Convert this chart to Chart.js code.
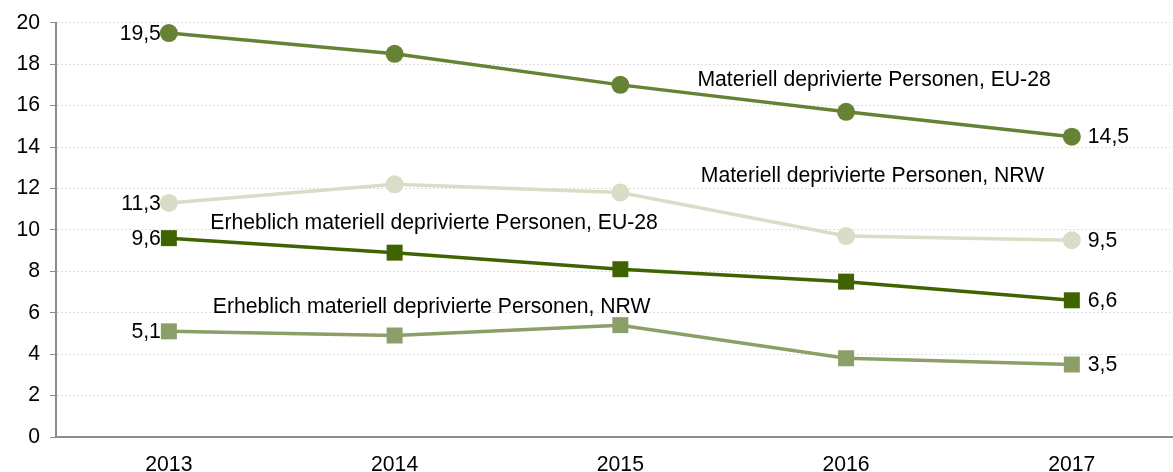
<!DOCTYPE html>
<html><head><meta charset="utf-8">
<script src="https://cdn.jsdelivr.net/npm/chart.js@4/dist/chart.umd.min.js"></script>
<style>
html,body{margin:0;padding:0;background:#fff;overflow:hidden;width:1173px;height:472px}
#wrap{position:absolute;left:0;top:0;width:1196px;height:472px}
</style></head><body>
<div id="wrap"><canvas id="c" width="1196" height="472"></canvas></div>
<script>
const years = ['2013','2014','2015','2016','2017'];
const euMat = [19.5, 18.5, 17.0, 15.7, 14.5];
const nrwMat = [11.3, 12.2, 11.8, 9.7, 9.5];
const euErh = [9.6, 8.9, 8.1, 7.5, 6.6];
const nrwErh = [5.1, 4.9, 5.4, 3.8, 3.5];
const seriesNames = [
  'Materiell deprivierte Personen, EU-28',
  'Materiell deprivierte Personen, NRW',
  'Erheblich materiell deprivierte Personen, EU-28',
  'Erheblich materiell deprivierte Personen, NRW'
];
// label anchors in data space: [category index, value]
const nameAnchors = [[3.124, 17.25], [3.117, 12.58], [1.175, 10.31], [1.164, 6.28]];
const yTicks = [0,2,4,6,8,10,12,14,16,18,20];

const FONT = '"Liberation Sans", Arial, sans-serif';
const FS = 21.2;
const fmt = v => v.toFixed(1).replace('.', ',');

const labelPlugin = {
  id: 'labels',
  afterDatasetsDraw(chart) {
    const ctx = chart.ctx;
    const xs = chart.scales.x, ys = chart.scales.y;
    ctx.save();
    ctx.fillStyle = '#000';
    ctx.font = FS + 'px ' + FONT;
    ctx.textBaseline = 'middle';
    chart.data.datasets.forEach((ds, di) => {
      const meta = chart.getDatasetMeta(di);
      const first = meta.data[0], last = meta.data[meta.data.length - 1];
      ctx.textAlign = 'right';
      ctx.fillText(fmt(ds.data[0]), first.x - 8, first.y + 1);
      ctx.textAlign = 'left';
      ctx.fillText(fmt(ds.data[ds.data.length - 1]), last.x + 16, last.y + 1);
      const a = nameAnchors[di];
      ctx.textAlign = 'center';
      const px = xs.getPixelForValue(0) + a[0] * (xs.getPixelForValue(1) - xs.getPixelForValue(0));
      ctx.fillText(seriesNames[di], px, ys.getPixelForValue(a[1]));
    });
    ctx.restore();
  }
};

function ds(data, color, style, r) {
  return {
    label: '', data,
    borderColor: color, backgroundColor: color,
    pointBackgroundColor: color, pointBorderColor: color,
    borderWidth: 3.5, pointStyle: style, pointRadius: r, pointHoverRadius: r,
    pointBorderWidth: 0, tension: 0, clip: false
  };
}

new Chart(document.getElementById('c'), {
  type: 'line',
  data: {
    labels: years,
    datasets: [
      ds(euMat, '#668235', 'circle', 9),
      ds(nrwMat, '#d8ddc8', 'circle', 9),
      ds(euErh, '#3f6300', 'rect', 11.3),
      ds(nrwErh, '#8c9f68', 'rect', 11.3)
    ]
  },
  plugins: [labelPlugin],
  options: {
    responsive: false,
    animation: false,
    layout: { padding: { top: 22, left: 0, right: 0, bottom: 0 } },
    plugins: { legend: { display: false }, tooltip: { enabled: false } },
    scales: {
      x: {
        offset: true,
        grid: { display: false, drawTicks: false },
        border: { color: '#8c8c8c', width: 2 },
        ticks: { color: '#000', font: { family: FONT, size: FS }, padding: 15 },
        afterFit(s) { s.height = 35; }
      },
      y: {
        min: 0, max: 20,
        afterBuildTicks(s) { s.ticks = yTicks.map(v => ({ value: v })); },
        grid: { color: '#dedede', lineWidth: 1, tickColor: '#8c8c8c', tickLength: 6, tickBorderDash: [0,0] },
        border: { color: '#8c8c8c', width: 2, dash: [2,2] },
        ticks: { color: '#000', font: { family: FONT, size: FS }, padding: 10 },
        afterFit(s) { s.width = 56; }
      }
    }
  }
});
</script></body></html>
